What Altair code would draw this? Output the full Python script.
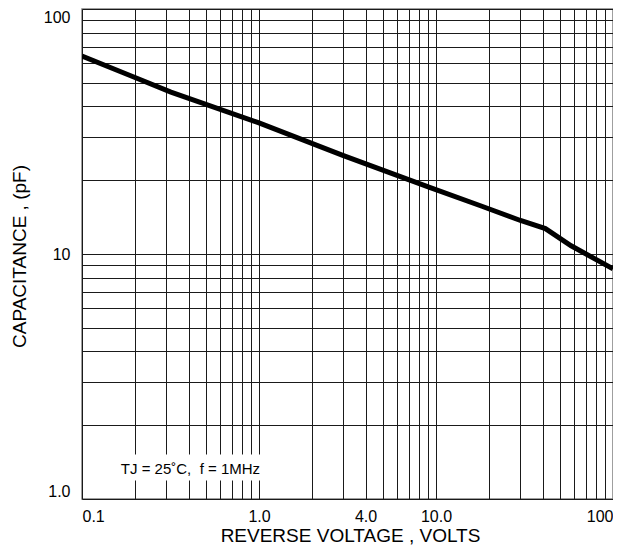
import altair as alt
import pandas as pd

# Curve (log-log)
voltage = [0.1, 0.193, 0.318, 1.0, 3.0, 9.2, 18, 30, 41.5, 58, 100]
capacitance = [64.2, 53.0, 45.8, 34.3, 25.2, 18.7, 15.7, 13.7, 12.7, 10.8, 8.7]

# Grid positions (every 1..9 multiple of each decade)
x_grid = [round(m * 10.0 ** e, 6) for e in (-1, 0, 1) for m in range(1, 10)] + [100]
y_grid = [round(m * 10.0 ** e, 6) for e in (0, 1) for m in range(1, 10)] + [100]

# Annotation
note_text = ["TJ = 25\u02daC,\u00a0 f = 1MHz"]
note_x = [0.41]
note_y = [1.33]
note_box_x = [0.15]
note_box_x2 = [1.13]
note_box_y = [1.19]
note_box_y2 = [1.52]

FONT = "Liberation Sans"
W = 531
LEFT = 74

curve = pd.DataFrame({"V": voltage, "C": capacitance})
note = pd.DataFrame({"x": note_x, "y": note_y, "t": note_text})
box = pd.DataFrame({"x": note_box_x, "x2": note_box_x2, "y": note_box_y, "y2": note_box_y2})

xscale = alt.Scale(type="log", domain=[0.1, 100], nice=False)
yscale = alt.Scale(type="log", domain=[1, 100], nice=False)

x_label_expr = ("datum.value == 0.1 ? '0.1' : datum.value == 1 ? '1.0' : "
                "datum.value == 4 ? '4.0' : datum.value == 10 ? '10.0' : "
                "datum.value == 100 ? '100' : ''")
y_label_expr = ("datum.value == 1 ? '1.0' : datum.value == 10 ? '10' : "
                "datum.value == 100 ? '100' : ''")

xaxis = alt.Axis(values=x_grid, labelExpr=x_label_expr, title="REVERSE VOLTAGE , VOLTS",
                 ticks=False, grid=True, gridColor="#1a1a1a", gridWidth=1, gridOpacity=1,
                 domain=False, labelFlush=True, labelOverlap=False,
                 labelFont=FONT, labelFontSize=16, labelColor="#000000", labelPadding=9,
                 titleFont=FONT, titleFontSize=19, titleFontWeight="normal", titleColor="#000000",
                 titleX=268, titleY=36, titleBaseline="middle", titleAlign="center")
yaxis = alt.Axis(values=y_grid, labelExpr=y_label_expr, title="CAPACITANCE , (pF)",
                 ticks=False, grid=True, gridColor="#1a1a1a", gridWidth=1, gridOpacity=1,
                 domain=False, labelFlush=True, labelOverlap=False,
                 labelFont=FONT, labelFontSize=16, labelColor="#000000", labelPadding=12,
                 titleFont=FONT, titleFontSize=19, titleFontWeight="normal", titleColor="#000000",
                 titleX=19 - (8 + LEFT), titleY=247, titleBaseline="middle", titleAlign="center",
                 titleAngle=270)

line = alt.Chart(curve).mark_line(color="black", strokeWidth=5, clip=True).encode(
    x=alt.X("V:Q", scale=xscale, axis=xaxis),
    y=alt.Y("C:Q", scale=yscale, axis=yaxis),
)

rect = alt.Chart(box).mark_rect(color="white").encode(
    x=alt.X("x:Q", scale=xscale, axis=xaxis),
    x2="x2:Q",
    y=alt.Y("y:Q", scale=yscale, axis=yaxis),
    y2="y2:Q",
)

text = alt.Chart(note).mark_text(font=FONT, fontSize=15, color="black", align="center",
                                 baseline="middle").encode(
    x=alt.X("x:Q", scale=xscale, axis=xaxis),
    y=alt.Y("y:Q", scale=yscale, axis=yaxis),
    text="t:N",
)

chart = alt.layer(rect, text, line).properties(
    width=W, height=490,
    autosize=alt.AutoSizeParams(type="none"),
    padding={"left": LEFT, "top": 1, "right": 0, "bottom": 46},
    background="white",
).configure_view(stroke="#808080", strokeWidth=1.5)

chart.save("out.html", embed_options={"renderer": "svg", "actions": False})
